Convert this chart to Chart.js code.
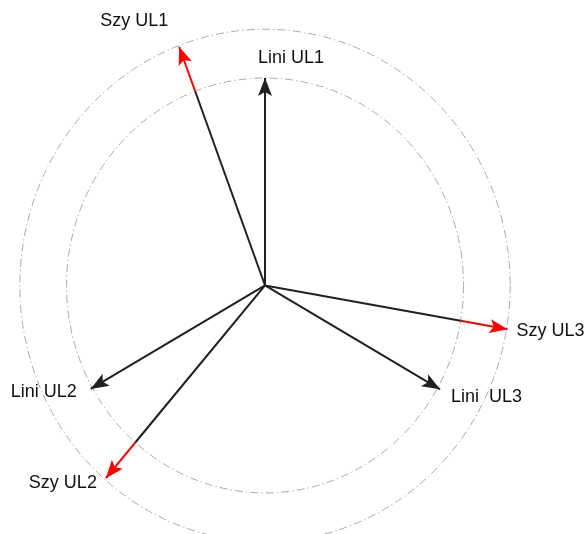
<!DOCTYPE html>
<html>
<head>
<meta charset="utf-8">
<script src="https://cdn.jsdelivr.net/npm/chart.js@4"></script>
<style>
  body { margin: 0; background: #fff; }
  #wrap { width: 588px; height: 534px; }
</style>
</head>
<body>
<div id="wrap"><canvas id="phasorChart" width="588" height="534"></canvas></div>
<script>
// phasor values (relative units, inner ring = 100)
var vecLabels = ['Lini UL1', 'Lini UL2', 'Lini  UL3', 'Szy UL1', 'Szy UL2', 'Szy UL3'];
var vecGroup = ['Lini', 'Lini', 'Lini', 'Szy', 'Szy', 'Szy'];
var vecMagnitude = [100, 101, 101.4, 122.9, 122.7, 124];
var vecAngle = [90, 209.6, -29.6, 110.6, 229.2, -9.8];
var ringRadii = [100, 123.5];

// label placement relative to arrow tip (px)
var labelOffsets = [[-7, -20], [-80, 3], [11, 8], [-79, -26], [-77, 5], [9, 2]];

var BLACK = '#231f20';
var RED = '#ff0000';

function polar(m, a) {
    var r = a * Math.PI / 180;
    return { x: m * Math.cos(r), y: m * Math.sin(r) };
}

var datasets = [];
vecLabels.forEach(function (lbl, i) {
    var m = vecMagnitude[i], a = vecAngle[i];
    if (vecGroup[i] === 'Szy') {
        datasets.push({ label: lbl + ' base', data: [polar(0, a), polar(ringRadii[0], a)], borderColor: BLACK, tip: false });
        datasets.push({ label: lbl, data: [polar(ringRadii[0], a), polar(m, a)], borderColor: RED, tip: true, idx: i });
    } else {
        datasets.push({ label: lbl, data: [polar(0, a), polar(m, a)], borderColor: BLACK, tip: true, idx: i });
    }
});
datasets.forEach(function (d) {
    d.showLine = true;
    d.borderWidth = 2;
    d.pointRadius = 0;
    d.fill = false;
});

var phasorPlugin = {
    id: 'phasor',
    beforeDatasetsDraw: function (chart) {
        var ctx = chart.ctx, xs = chart.scales.x, ys = chart.scales.y;
        var cx = xs.getPixelForValue(0), cy = ys.getPixelForValue(0);
        ctx.save();
        ctx.strokeStyle = '#aaaaaa';
        ctx.lineWidth = 1;
        ctx.setLineDash([8, 3, 1.5, 3]);
        ringRadii.forEach(function (r) {
            var rx = xs.getPixelForValue(r) - cx;
            var ry = cy - ys.getPixelForValue(r);
            ctx.beginPath();
            ctx.ellipse(cx, cy, rx, ry, 0, 0, Math.PI * 2);
            ctx.stroke();
        });
        ctx.restore();
    },
    afterDatasetsDraw: function (chart) {
        var ctx = chart.ctx, xs = chart.scales.x, ys = chart.scales.y;
        ctx.save();
        chart.data.datasets.forEach(function (d) {
            if (!d.tip) return;
            var p0 = d.data[0], p1 = d.data[1];
            var x0 = xs.getPixelForValue(p0.x), y0 = ys.getPixelForValue(p0.y);
            var x1 = xs.getPixelForValue(p1.x), y1 = ys.getPixelForValue(p1.y);
            var ang = Math.atan2(y1 - y0, x1 - x0);
            var len = 18, half = 7;
            var bx = x1 - len * Math.cos(ang), by = y1 - len * Math.sin(ang);
            ctx.fillStyle = d.borderColor;
            ctx.beginPath();
            ctx.moveTo(x1, y1);
            ctx.lineTo(bx + half * Math.sin(ang), by - half * Math.cos(ang));
            ctx.lineTo(x1 - 14 * Math.cos(ang), y1 - 14 * Math.sin(ang));
            ctx.lineTo(bx - half * Math.sin(ang), by + half * Math.cos(ang));
            ctx.closePath();
            ctx.fill();

            var off = labelOffsets[d.idx];
            ctx.fillStyle = '#111';
            ctx.font = '18px "Liberation Sans", Arial, sans-serif';
            ctx.textAlign = 'left';
            ctx.textBaseline = 'middle';
            ctx.fillText(vecLabels[d.idx], x1 + off[0], y1 + off[1]);
        });
        ctx.restore();
    }
};

var ctx = document.getElementById('phasorChart').getContext('2d');
var phasorChart = new Chart(ctx, {
    type: 'scatter',
    data: { datasets: datasets },
    options: {
        responsive: false,
        animation: false,
        layout: { padding: 0 },
        plugins: {
            legend: { display: false },
            tooltip: { enabled: false }
        },
        scales: {
            x: { type: 'linear', min: -133.5, max: 162.7, display: false },
            y: { type: 'linear', min: -119.8, max: 137.6, display: false }
        }
    },
    plugins: [phasorPlugin]
});
</script>
</body>
</html>
